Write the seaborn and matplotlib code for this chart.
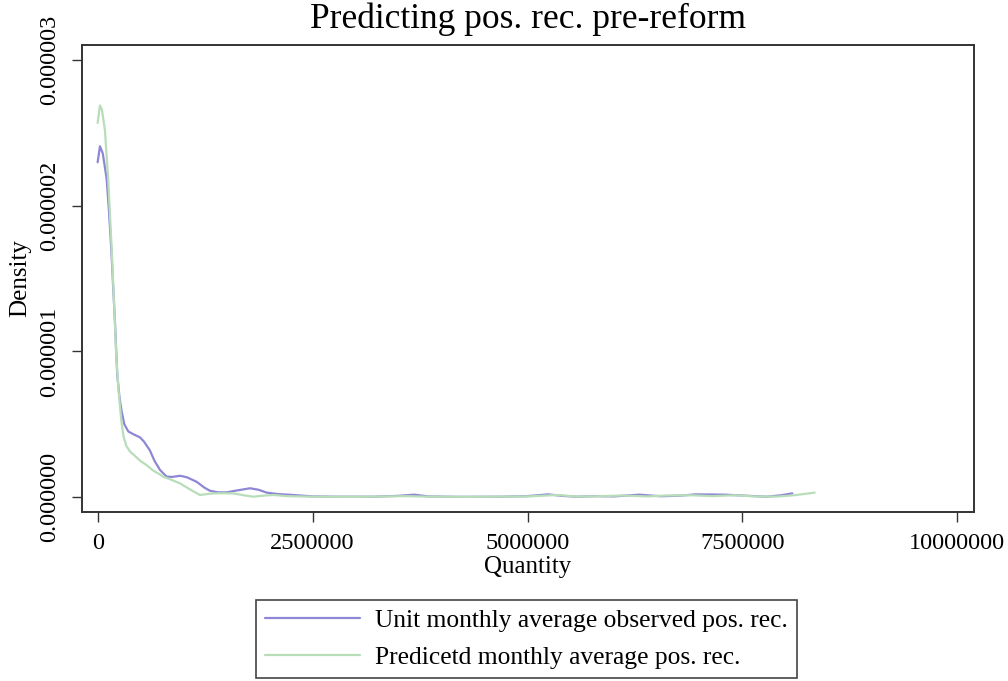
import numpy as np
import pandas as pd
import matplotlib
matplotlib.use("Agg")
from matplotlib import pyplot as plt
from matplotlib.ticker import FixedLocator, StrMethodFormatter
import seaborn as sns

# Density of monthly pos. rec., observed vs predicted (pre-reform)

title = "Predicting pos. rec. pre-reform"
x_label = "Quantity"
y_label = "Density"
series_names = ["Unit monthly average observed pos. rec.",
                "Predicetd monthly average pos. rec."]

# curves: quantity in thousands, density in 1e-6
obs_qty = [0, 27, 60, 104, 130, 159, 180, 201, 228, 255, 279, 310, 357, 420,
           492, 540, 608, 660, 725, 802, 870, 960, 1040, 1150, 1240, 1306,
           1400, 1500, 1620, 1773, 1870, 1966, 2100, 2270, 2500, 2800, 3200,
           3500, 3680, 3850, 4200, 4700, 5000, 5240, 5400, 5570, 5800, 6000,
           6300, 6550, 6800, 6950, 7150, 7300, 7500, 7780, 7950, 8080]
obs_dens = [2.30, 2.41, 2.36, 2.19, 1.98, 1.70, 1.45, 1.21, 0.84, 0.68, 0.59,
            0.50, 0.45, 0.43, 0.41, 0.38, 0.32, 0.25, 0.186, 0.14, 0.138,
            0.146, 0.135, 0.105, 0.065, 0.043, 0.032, 0.032, 0.045, 0.060,
            0.050, 0.030, 0.020, 0.014, 0.004, 0.002, 0.002, 0.008, 0.016,
            0.004, 0.001, 0.002, 0.006, 0.018, 0.008, 0.002, 0.006, 0.004,
            0.016, 0.005, 0.010, 0.018, 0.017, 0.016, 0.010, 0.002, 0.012,
            0.025]

pred_qty = [0, 27, 50, 85, 123, 162, 190, 217, 245, 276, 300, 334, 380, 420,
            492, 567, 650, 725, 760, 850, 957, 1080, 1190, 1270, 1345, 1460,
            1578, 1700, 1810, 1900, 2043, 2200, 2500, 3000, 3600, 3800, 4300,
            4800, 5000, 5350, 5570, 5800, 6100, 6400, 6600, 6900, 7150, 7400,
            7650, 7900, 8100, 8340]
pred_dens = [2.57, 2.69, 2.66, 2.52, 2.18, 1.72, 1.35, 0.96, 0.72, 0.52, 0.42,
             0.35, 0.31, 0.29, 0.25, 0.22, 0.18, 0.155, 0.14, 0.12, 0.094,
             0.05, 0.014, 0.02, 0.025, 0.026, 0.025, 0.012, 0.002, 0.008,
             0.014, 0.006, 0.002, 0.001, 0.006, 0.003, 0.001, 0.003, 0.004,
             0.014, 0.003, 0.005, 0.010, 0.004, 0.010, 0.012, 0.006, 0.012,
             0.004, 0.003, 0.012, 0.030]

x_ticks = [0, 2500000, 5000000, 7500000, 10000000]
y_ticks = [0.0, 0.000001, 0.000002, 0.000003]

purple = "#8d87d6"
green = "#b8ddb9"

df = pd.concat([
    pd.DataFrame({"quantity": np.array(obs_qty) * 1e3,
                  "density": np.array(obs_dens) * 1e-6,
                  "series": series_names[0]}),
    pd.DataFrame({"quantity": np.array(pred_qty) * 1e3,
                  "density": np.array(pred_dens) * 1e-6,
                  "series": series_names[1]}),
], ignore_index=True)

sns.set_theme(style="white")
plt.rcParams["font.family"] = ["Liberation Serif", "DejaVu Serif"]
plt.rcParams["text.color"] = "black"

fig = plt.figure(figsize=(10.08, 6.81), dpi=100)
ax = fig.add_axes([0.081, 0.2486, 0.885, 0.6854])

sns.lineplot(data=df, x="quantity", y="density", hue="series",
             hue_order=series_names, palette=[purple, green],
             sort=False, estimator=None, linewidth=1.6, ax=ax)

ax.set_xlim(-186000, 10190000)
ax.set_ylim(-0.101e-6, 3.106e-6)
ax.xaxis.set_major_locator(FixedLocator(x_ticks))
ax.yaxis.set_major_locator(FixedLocator(y_ticks))
ax.xaxis.set_major_formatter(StrMethodFormatter("{x:.0f}"))
ax.yaxis.set_major_formatter(StrMethodFormatter("{x:.6f}"))

ax.tick_params(axis="both", bottom=True, left=True, direction="out",
               length=7.5, width=1.0, color="#333333", labelsize=17.5,
               labelcolor="black")
ax.tick_params(axis="x", pad=8)
ax.tick_params(axis="y", pad=8, labelrotation=90)
for lbl in ax.get_yticklabels():
    lbl.set_va("center")

for sp in ax.spines.values():
    sp.set_visible(True)
    sp.set_color("#333333")
    sp.set_linewidth(1.4)

ax.set_title(title, fontsize=25.5, color="black", pad=12)
ax.set_xlabel(x_label, fontsize=18, color="black", labelpad=1)
ax.set_ylabel(y_label, fontsize=18, color="black", labelpad=6)

handles, labels = ax.get_legend_handles_labels()
ax.get_legend().remove()
leg = fig.legend(handles, labels, loc="upper center",
                 bbox_to_anchor=(526.5 / 1008, 1 - 600 / 681),
                 borderaxespad=0, fontsize=18.4, frameon=True, fancybox=False,
                 edgecolor="#444444", framealpha=1, handlelength=3.7,
                 handletextpad=0.6, labelspacing=0.55, borderpad=0.35,
                 labelcolor="black")
leg.get_frame().set_linewidth(1.2)

fig.savefig("out.png", dpi=100)
